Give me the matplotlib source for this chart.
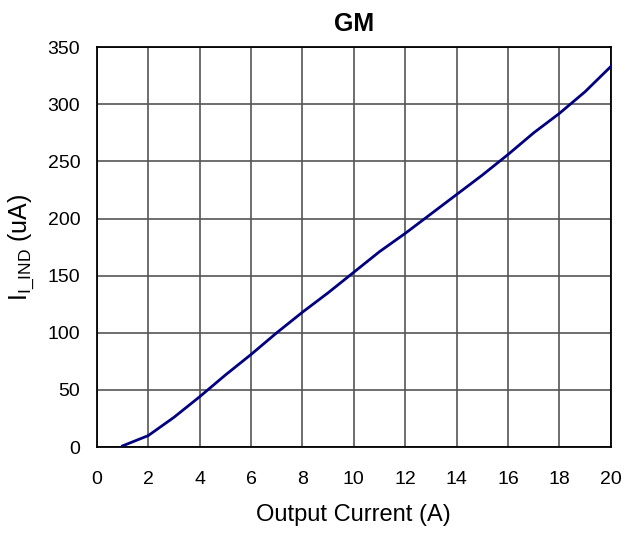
import numpy as np
import matplotlib
matplotlib.use("Agg")
from matplotlib import pyplot as plt

plt.rcParams['font.family'] = ['Liberation Sans', 'DejaVu Sans']
plt.rcParams['mathtext.fontset'] = 'custom'
plt.rcParams['mathtext.rm'] = 'Liberation Sans'

# data
current = [1, 2, 3, 4, 5, 6, 7, 8, 9, 10, 11, 12, 13, 14, 15, 16, 17, 18, 19, 20]
i_ind = [1, 10, 26, 44, 63, 81, 100, 118, 135, 153, 171, 187, 204, 221, 238, 256, 275, 292, 311, 333]
xticks = np.arange(0, 21, 2)
yticks = np.arange(0, 351, 50)

fig = plt.figure(figsize=(6.29, 5.36), dpi=100)
ax = fig.add_axes([0.154, 0.166, 0.817, 0.746])

ax.plot(current, i_ind, color='#000080', lw=2, zorder=3)

ax.set_xlim(0, 20)
ax.set_ylim(0, 350)
ax.set_xticks(xticks)
ax.set_yticks(yticks)
ax.grid(True, color='#555555', lw=1.2)
for s in ax.spines.values():
    s.set_color('black')
    s.set_linewidth(1.3)
ax.tick_params(axis='x', labelsize=14, length=0, pad=17)
ax.tick_params(axis='y', labelsize=14, length=0, pad=12)

ax.set_title('GM', fontsize=18, fontweight='bold', pad=12)
ax.set_xlabel('Output Current (A)', fontsize=17, labelpad=12)
ax.set_ylabel(r'I$_{\mathregular{I\_IND}}$ (uA)', fontsize=18, labelpad=8)

fig.savefig('out.png', dpi=100)
